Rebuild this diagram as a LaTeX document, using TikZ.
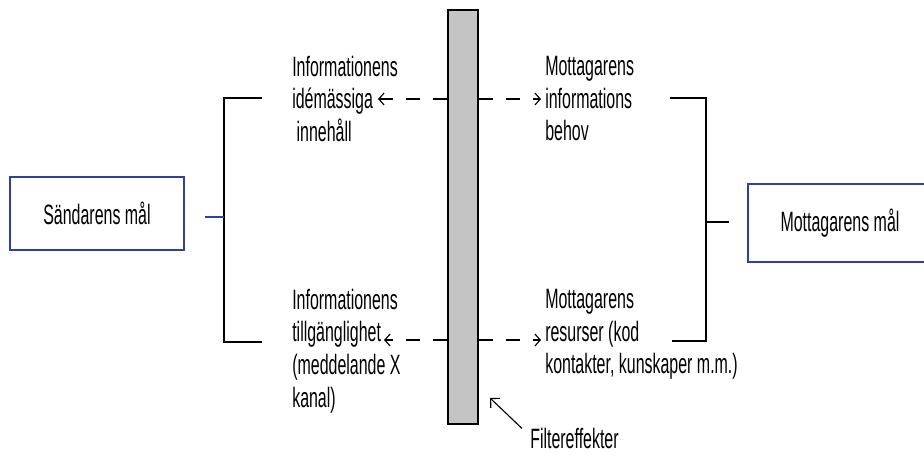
\documentclass[tikz,border=0pt]{standalone}
\usepackage{fontspec}
\setmainfont[FakeStretch=0.57]{Liberation Sans}
\usetikzlibrary{arrows.meta, positioning}
\definecolor{goalblue}{HTML}{2F3FA6}
\definecolor{filtergray}{HTML}{C4C4C4}

\begin{document}
\begin{tikzpicture}[
    x=0.75pt, y=-0.75pt,
    font=\fontsize{21pt}{24.5pt}\selectfont,
    goal/.style={
        rectangle, draw=goalblue, line width=1.1pt,
        inner sep=0pt, align=center
    },
    txt/.style={anchor=north west, inner sep=0pt, align=left},
    brk/.style={line width=1pt},
    dasharr/.style={-{Straight Barb[length=4pt,width=9pt]},
        line width=0.85pt, dash pattern=on 10.5pt off 9.75pt},
    arr/.style={-{Straight Barb[length=5pt,width=10pt]}, line width=0.85pt}
]
\useasboundingbox (0,0) rectangle (924,455);
\clip (0,0) rectangle (924,455);

% goals and filter
\node[goal, minimum width=130.5pt, minimum height=54.75pt] (sender) at (97,213.5) {Sändarens mål};
\node[goal, minimum width=138pt, minimum height=58.5pt] (receiver) at (840,223) {Mottagarens mål};
\node[rectangle, draw, line width=1.5pt, fill=filtergray, inner sep=0pt,
      minimum width=22.5pt, minimum height=310.5pt] (bar) at (463,217) {};

% text blocks
\node[txt] (ideaInfo)  at (292,55.6)  {Informationens\\idémässiga\\\hspace*{3.3pt}innehåll};
\node[txt] (availInfo) at (292,288.6) {Informationens\\tillgänglighet\\(meddelande X\\kanal)};
\node[txt] (needInfo)  at (545,56)    {Mottagarens\\informations\\behov};
\node[txt] (resInfo)   at (545,289)   {Mottagarens\\resurser (kod\\kontakter, kunskaper m.m.)};
\node[anchor=base west, inner sep=0pt] (fxlabel) at (530,448) {Filtereffekter};

\coordinate (ideaTip)  at (378,99);
\coordinate (availTip) at (384,340);
\coordinate (needTip)  at (541,99);
\coordinate (resTip)   at (541,340);
\coordinate (fxTip)    at (490,398);
\coordinate (lbTop)    at (262,98);
\coordinate (lbBot)    at (262,342);
\coordinate (sendTick) at (205,217);
\coordinate (rbTop)    at (670,98);
\coordinate (rbBot)    at (672,341);
\coordinate (recvTick) at (729,222);

% brackets
\draw[brk] (lbTop) -- ++(-38,0) |- (lbBot);
\draw[brk, draw=goalblue] (sendTick) -- ++(19,0);
\draw[brk] (rbTop) -- ++(36,0) |- (rbBot);
\draw[brk] (recvTick) -- ++(-23,0);

% dashed arrows out of the filter
\foreach \s/\t in {west/ideaTip, west/availTip, east/needTip, east/resTip}
  \draw[dasharr] (bar.\s |- \t) -- (\t);

\draw[arr] ([shift={(-8,1)}]fxlabel.north west) -- (fxTip);
\end{tikzpicture}
\end{document}
